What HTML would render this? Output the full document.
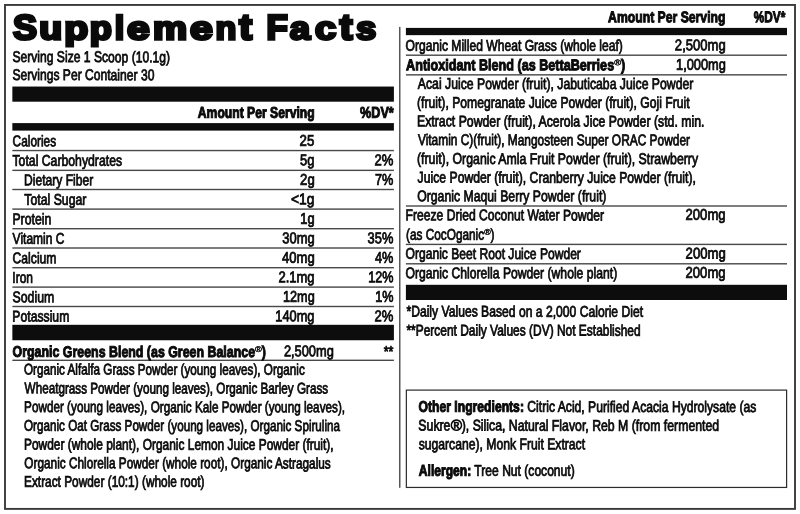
<!DOCTYPE html><html><head><meta charset="utf-8"><title>Supplement Facts</title><style>
html,body{margin:0;padding:0;background:#fff;}
body{width:800px;height:514px;position:relative;overflow:hidden;font-family:"Liberation Sans",sans-serif;color:#0a0a0a;}
#wrap{position:absolute;left:0;top:0;width:800px;height:514px;will-change:transform;}
svg{position:absolute;left:0;top:0;}
h1{margin:0;padding:0;font-size:inherit;font-weight:inherit;}
.t{position:absolute;left:0;top:0;text-rendering:geometricPrecision;white-space:nowrap;transform-origin:0 0;line-height:1;font-weight:400;-webkit-text-stroke:0.80px #0a0a0a;}
.b{font-weight:700;-webkit-text-stroke-width:1.0px;}
.t b{font-weight:700;-webkit-text-stroke-width:1.0px;}
.r{display:inline-block;font-size:74%;position:relative;top:-0.53em;transform:scaleY(0.72);transform-origin:50% 100%;font-weight:400;-webkit-text-stroke-width:0.55px !important;}
.r2{display:inline-block;transform:scaleX(1.25);transform-origin:0 50%;margin-right:0.18em;}
.title{-webkit-text-stroke:3.0px #0a0a0a;}

</style></head><body><div id="wrap">
<svg id="shapes" width="800" height="514" viewBox="0 0 800 514"><rect x="5" y="4.95" width="790" height="503.95" fill="none" stroke="#3a3a3a" stroke-width="1.9"/><rect x="399.1" y="26.9" width="1.35" height="460.9" fill="#444"/><rect x="12.35" y="86.55" width="381.55" height="15.15" fill="#0d0d0d"/><rect x="12.35" y="123.10" width="381.55" height="7.50" fill="#0d0d0d"/><rect x="12.35" y="324.80" width="381.55" height="15.45" fill="#0d0d0d"/><rect x="405.90" y="27.90" width="381.10" height="7.25" fill="#0d0d0d"/><rect x="405.90" y="284.80" width="381.10" height="15.20" fill="#0d0d0d"/><rect x="12.35" y="149.85" width="381.55" height="1.40" fill="#484848"/><rect x="12.35" y="169.65" width="381.55" height="1.40" fill="#484848"/><rect x="12.35" y="188.80" width="381.55" height="1.40" fill="#484848"/><rect x="12.35" y="208.40" width="381.55" height="1.40" fill="#484848"/><rect x="12.35" y="228.00" width="381.55" height="1.40" fill="#484848"/><rect x="12.35" y="247.30" width="381.55" height="1.40" fill="#484848"/><rect x="12.35" y="267.00" width="381.55" height="1.40" fill="#484848"/><rect x="12.35" y="286.40" width="381.55" height="1.40" fill="#484848"/><rect x="12.35" y="305.80" width="381.55" height="1.40" fill="#484848"/><rect x="12.35" y="359.60" width="381.55" height="1.40" fill="#484848"/><rect x="405.9" y="54.50" width="381.1" height="1.40" fill="#484848"/><rect x="405.9" y="74.15" width="381.1" height="1.40" fill="#484848"/><rect x="405.9" y="205.30" width="381.1" height="1.40" fill="#484848"/><rect x="405.9" y="243.70" width="381.1" height="1.40" fill="#484848"/><rect x="405.9" y="263.10" width="381.1" height="1.40" fill="#484848"/><rect x="406.35" y="390.1" width="380.25" height="97.35" fill="none" stroke="#2c2c2c" stroke-width="1.2"/></svg>
<h1><span class="t b title" id="t0" style="font-size:34.90px;transform:translate(12.96px,11.24px) scaleX(1.0309) skewY(0.04deg)">S</span><span class="t b title" id="t1" style="font-size:34.90px;transform:translate(39.25px,13.29px) scale(1.0752,0.9300) skewY(0.04deg)">u</span><span class="t b title" id="t2" style="font-size:34.90px;transform:translate(64.20px,13.29px) scale(1.1268,0.9300) skewY(0.04deg)">p</span><span class="t b title" id="t3" style="font-size:34.90px;transform:translate(89.79px,13.29px) scale(1.0389,0.9300) skewY(0.04deg)">p</span><span class="t b title" id="t4" style="font-size:34.90px;transform:translate(114.69px,12.70px) scale(0.9773,0.9500) skewY(0.04deg)">l</span><span class="t b title" id="t5" style="font-size:34.90px;transform:translate(127.02px,13.29px) scale(1.1650,0.9300) skewY(0.04deg)">e</span><span class="t b title" id="t6" style="font-size:34.90px;transform:translate(152.97px,13.29px) scale(1.1004,0.9300) skewY(0.04deg)">m</span><span class="t b title" id="t7" style="font-size:34.90px;transform:translate(190.07px,13.29px) scale(1.1688,0.9300) skewY(0.04deg)">e</span><span class="t b title" id="t8" style="font-size:34.90px;transform:translate(215.39px,13.29px) scale(0.9774,0.9300) skewY(0.04deg)">n</span><span class="t b title" id="t9" style="font-size:34.90px;transform:translate(239.29px,10.36px) scale(1.0964,1.0300) skewY(0.04deg)">t</span> <span class="t b title" id="t10" style="font-size:34.90px;transform:translate(266.56px,11.24px) scaleX(0.9980) skewY(0.04deg)">F</span><span class="t b title" id="t11" style="font-size:34.90px;transform:translate(289.79px,13.29px) scale(1.0488,0.9300) skewY(0.04deg)">a</span><span class="t b title" id="t12" style="font-size:34.90px;transform:translate(315.11px,13.29px) scale(1.0938,0.9300) skewY(0.04deg)">c</span><span class="t b title" id="t13" style="font-size:34.90px;transform:translate(339.81px,10.36px) scale(1.0936,1.0300) skewY(0.04deg)">t</span><span class="t b title" id="t14" style="font-size:34.90px;transform:translate(355.94px,13.29px) scale(1.0456,0.9300) skewY(0.04deg)">s</span></h1>
<div class="t" id="t15" style="font-size:15.50px;transform:translate(12.39px,50.04px) scaleX(0.7822) skewY(0.04deg)">Serving Size 1 Scoop (10.1g)</div>
<div class="t" id="t16" style="font-size:15.50px;transform:translate(12.39px,68.04px) scaleX(0.7810) skewY(0.04deg)">Servings Per Container 30</div>
<div class="t b" id="t17" style="font-size:15.50px;transform:translate(197.83px,105.74px) scaleX(0.7842) skewY(0.04deg)">Amount Per Serving</div>
<div class="t b" id="t18" style="font-size:15.50px;transform:translate(360.05px,105.74px) scaleX(0.8140) skewY(0.04deg)">%DV*</div>
<div class="t" id="t19" style="font-size:15.50px;transform:translate(12.56px,134.24px) scaleX(0.7673) skewY(0.04deg)">Calories</div>
<div class="t" id="t20" style="font-size:15.50px;transform:translate(299.55px,133.84px) scaleX(0.8559) skewY(0.04deg)">25</div>
<div class="t" id="t21" style="font-size:15.50px;transform:translate(12.49px,153.74px) scaleX(0.7902) skewY(0.04deg)">Total Carbohydrates</div>
<div class="t" id="t22" style="font-size:15.50px;transform:translate(300.07px,153.34px) scaleX(0.8384) skewY(0.04deg)">5g</div>
<div class="t" id="t23" style="font-size:15.50px;transform:translate(374.48px,153.34px) scaleX(0.8445) skewY(0.04deg)">2%</div>
<div class="t" id="t24" style="font-size:15.50px;transform:translate(24.07px,173.24px) scaleX(0.7795) skewY(0.04deg)">Dietary Fiber</div>
<div class="t" id="t25" style="font-size:15.50px;transform:translate(300.10px,172.84px) scaleX(0.8483) skewY(0.04deg)">2g</div>
<div class="t" id="t26" style="font-size:15.50px;transform:translate(374.88px,172.84px) scaleX(0.8226) skewY(0.04deg)">7%</div>
<div class="t" id="t27" style="font-size:15.50px;transform:translate(24.37px,192.74px) scaleX(0.7904) skewY(0.04deg)">Total Sugar</div>
<div class="t" id="t28" style="font-size:15.50px;transform:translate(290.89px,192.34px) scaleX(0.8927) skewY(0.04deg)">&lt;1g</div>
<div class="t" id="t29" style="font-size:15.50px;transform:translate(12.39px,212.24px) scaleX(0.7933) skewY(0.04deg)">Protein</div>
<div class="t" id="t30" style="font-size:15.50px;transform:translate(300.37px,211.84px) scaleX(0.8315) skewY(0.04deg)">1g</div>
<div class="t" id="t31" style="font-size:15.50px;transform:translate(12.60px,231.74px) scaleX(0.7748) skewY(0.04deg)">Vitamin C</div>
<div class="t" id="t32" style="font-size:15.50px;transform:translate(282.25px,231.34px) scaleX(0.8346) skewY(0.04deg)">30mg</div>
<div class="t" id="t33" style="font-size:15.50px;transform:translate(367.59px,231.34px) scaleX(0.8292) skewY(0.04deg)">35%</div>
<div class="t" id="t34" style="font-size:15.50px;transform:translate(12.58px,251.24px) scaleX(0.7841) skewY(0.04deg)">Calcium</div>
<div class="t" id="t35" style="font-size:15.50px;transform:translate(281.92px,250.84px) scaleX(0.8446) skewY(0.04deg)">40mg</div>
<div class="t" id="t36" style="font-size:15.50px;transform:translate(374.93px,250.84px) scaleX(0.8218) skewY(0.04deg)">4%</div>
<div class="t" id="t37" style="font-size:15.50px;transform:translate(12.34px,270.74px) scaleX(0.7734) skewY(0.04deg)">Iron</div>
<div class="t" id="t38" style="font-size:15.50px;transform:translate(278.39px,270.34px) scaleX(0.8405) skewY(0.04deg)">2.1mg</div>
<div class="t" id="t39" style="font-size:15.50px;transform:translate(368.31px,270.34px) scaleX(0.8155) skewY(0.04deg)">12%</div>
<div class="t" id="t40" style="font-size:15.50px;transform:translate(12.47px,290.24px) scaleX(0.7954) skewY(0.04deg)">Sodium</div>
<div class="t" id="t41" style="font-size:15.50px;transform:translate(283.01px,289.84px) scaleX(0.8177) skewY(0.04deg)">12mg</div>
<div class="t" id="t42" style="font-size:15.50px;transform:translate(375.25px,289.84px) scaleX(0.8172) skewY(0.04deg)">1%</div>
<div class="t" id="t43" style="font-size:15.50px;transform:translate(12.37px,309.54px) scaleX(0.7868) skewY(0.04deg)">Potassium</div>
<div class="t" id="t44" style="font-size:15.50px;transform:translate(275.27px,309.14px) scaleX(0.8279) skewY(0.04deg)">140mg</div>
<div class="t" id="t45" style="font-size:15.50px;transform:translate(374.48px,309.14px) scaleX(0.8445) skewY(0.04deg)">2%</div>
<div class="t b" id="t46" style="font-size:15.50px;transform:translate(12.54px,344.84px) scaleX(0.7997) skewY(0.04deg)">Organic Greens Blend (as Green Balance<span class="r">&reg;</span>)</div>
<div class="t" id="t47" style="font-size:15.50px;transform:translate(283.88px,344.24px) scaleX(0.8278) skewY(0.04deg)">2,500mg</div>
<div class="t" id="t48" style="font-size:15.50px;transform:translate(383.63px,344.84px) scaleX(0.8130) skewY(0.04deg)">**</div>
<div class="t" id="t49" style="font-size:15.50px;transform:translate(24.02px,362.54px) scaleX(0.7543) skewY(0.04deg)">Organic Alfalfa Grass Powder (young leaves), Organic</div>
<div class="t" id="t50" style="font-size:15.50px;transform:translate(24.61px,381.34px) scaleX(0.7545) skewY(0.04deg)">Wheatgrass Powder (young leaves), Organic Barley Grass</div>
<div class="t" id="t51" style="font-size:15.50px;transform:translate(24.06px,400.04px) scaleX(0.7573) skewY(0.04deg)">Powder (young leaves), Organic Kale Powder (young leaves),</div>
<div class="t" id="t52" style="font-size:15.50px;transform:translate(24.03px,418.74px) scaleX(0.7532) skewY(0.04deg)">Organic Oat Grass Powder (young leaves), Organic Spirulina</div>
<div class="t" id="t53" style="font-size:15.50px;transform:translate(23.98px,437.54px) scaleX(0.7696) skewY(0.04deg)">Powder (whole plant), Organic Lemon Juice Powder (fruit),</div>
<div class="t" id="t54" style="font-size:15.50px;transform:translate(24.35px,456.14px) scaleX(0.7616) skewY(0.04deg)">Organic Chlorella Powder (whole root), Organic Astragalus</div>
<div class="t" id="t55" style="font-size:15.50px;transform:translate(24.01px,474.64px) scaleX(0.7648) skewY(0.04deg)">Extract Powder (10:1) (whole root)</div>
<div class="t b" id="t56" style="font-size:15.50px;transform:translate(608.09px,10.24px) scaleX(0.7878) skewY(0.04deg)">Amount Per Serving</div>
<div class="t b" id="t57" style="font-size:15.50px;transform:translate(753.85px,10.24px) scaleX(0.7593) skewY(0.04deg)">%DV*</div>
<div class="t" id="t58" style="font-size:15.50px;transform:translate(405.55px,38.64px) scaleX(0.7810) skewY(0.04deg)">Organic Milled Wheat Grass (whole leaf)</div>
<div class="t" id="t59" style="font-size:15.50px;transform:translate(674.87px,38.24px) scaleX(0.8426) skewY(0.04deg)">2,500mg</div>
<div class="t b" id="t60" style="font-size:15.50px;transform:translate(406.07px,58.14px) scaleX(0.8134) skewY(0.04deg)">Antioxidant Blend (as BettaBerries<span class="r">&reg;</span>)</div>
<div class="t" id="t61" style="font-size:15.50px;transform:translate(676.00px,57.74px) scaleX(0.8274) skewY(0.04deg)">1,000mg</div>
<div class="t" id="t62" style="font-size:15.50px;transform:translate(417.79px,76.84px) scaleX(0.7898) skewY(0.04deg)">Acai Juice Powder (fruit), Jabuticaba Juice Powder</div>
<div class="t" id="t63" style="font-size:15.50px;transform:translate(417.00px,95.64px) scaleX(0.7856) skewY(0.04deg)">(fruit), Pomegranate Juice Powder (fruit), Goji Fruit</div>
<div class="t" id="t64" style="font-size:15.50px;transform:translate(416.99px,114.34px) scaleX(0.7927) skewY(0.04deg)">Extract Powder (fruit), Acerola Jice Powder (std. min.</div>
<div class="t" id="t65" style="font-size:15.50px;transform:translate(417.90px,133.04px) scaleX(0.7693) skewY(0.04deg)">Vitamin C)(fruit), Mangosteen Super ORAC Powder</div>
<div class="t" id="t66" style="font-size:15.50px;transform:translate(416.97px,151.84px) scaleX(0.7941) skewY(0.04deg)">(fruit), Organic Amla Fruit Powder (fruit), Strawberry</div>
<div class="t" id="t67" style="font-size:15.50px;transform:translate(417.58px,170.54px) scaleX(0.7879) skewY(0.04deg)">Juice Powder (fruit), Cranberry Juice Powder (fruit),</div>
<div class="t" id="t68" style="font-size:15.50px;transform:translate(417.15px,189.14px) scaleX(0.7902) skewY(0.04deg)">Organic Maqui Berry Powder (fruit)</div>
<div class="t" id="t69" style="font-size:15.50px;transform:translate(405.50px,208.24px) scaleX(0.7830) skewY(0.04deg)">Freeze Dried Coconut Water Powder</div>
<div class="t" id="t70" style="font-size:15.50px;transform:translate(685.48px,207.84px) scaleX(0.8470) skewY(0.04deg)">200mg</div>
<div class="t" id="t71" style="font-size:15.50px;transform:translate(405.98px,227.64px) scaleX(0.7624) skewY(0.04deg)">(as CocOganic<span class="r">&reg;</span>)</div>
<div class="t" id="t72" style="font-size:15.50px;transform:translate(405.55px,246.84px) scaleX(0.7798) skewY(0.04deg)">Organic Beet Root Juice Powder</div>
<div class="t" id="t73" style="font-size:15.50px;transform:translate(685.60px,246.44px) scaleX(0.8489) skewY(0.04deg)">200mg</div>
<div class="t" id="t74" style="font-size:15.50px;transform:translate(405.49px,266.14px) scaleX(0.7851) skewY(0.04deg)">Organic Chlorella Powder (whole plant)</div>
<div class="t" id="t75" style="font-size:15.50px;transform:translate(685.48px,265.74px) scaleX(0.8470) skewY(0.04deg)">200mg</div>
<div class="t" id="t76" style="font-size:15.50px;transform:translate(406.40px,304.54px) scaleX(0.7834) skewY(0.04deg)">*Daily Values Based on a 2,000 Calorie Diet</div>
<div class="t" id="t77" style="font-size:15.50px;transform:translate(406.40px,323.44px) scaleX(0.7710) skewY(0.04deg)">**Percent Daily Values (DV) Not Established</div>
<div class="t" id="t78" style="font-size:15.50px;transform:translate(418.56px,399.74px) scaleX(0.7843) skewY(0.04deg)"><b>Other Ingredients:</b> Citric Acid, Purified Acacia Hydrolysate (as</div>
<div class="t" id="t79" style="font-size:15.50px;transform:translate(418.35px,418.54px) scaleX(0.7928) skewY(0.04deg)">Sukre<span class="r2">&reg;</span>), Silica, Natural Flavor, Reb M (from fermented</div>
<div class="t" id="t80" style="font-size:15.50px;transform:translate(418.68px,437.14px) scaleX(0.7852) skewY(0.04deg)">sugarcane), Monk Fruit Extract</div>
<div class="t" id="t81" style="font-size:15.50px;transform:translate(418.82px,463.64px) scaleX(0.7800) skewY(0.04deg)"><b>Allergen:</b> Tree Nut (coconut)</div>
</div></body></html>
